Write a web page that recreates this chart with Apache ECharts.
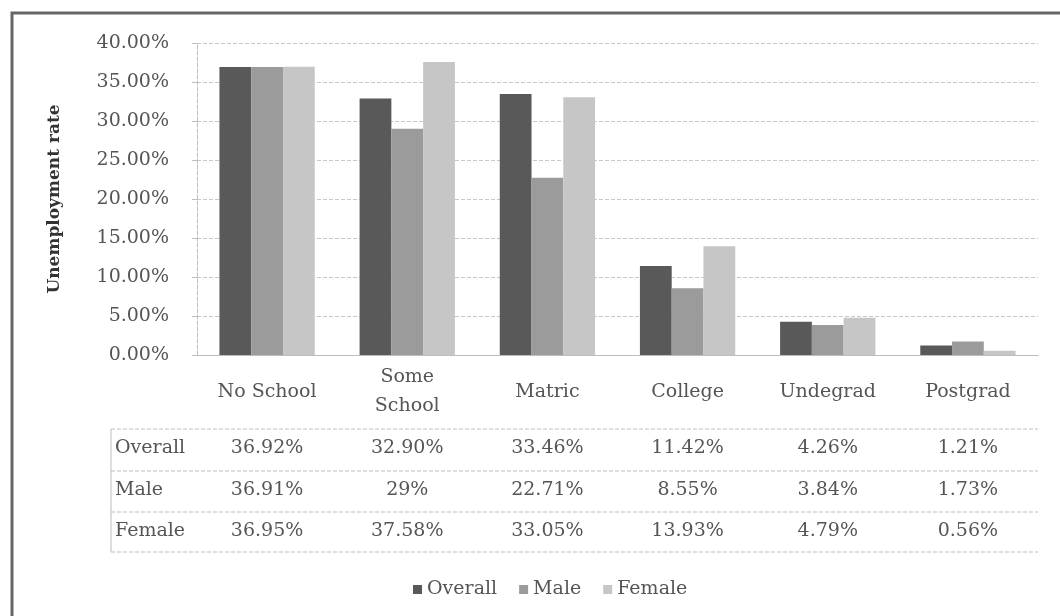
<!DOCTYPE html>
<html>
<head>
    <meta charset="utf-8">
    <script type="text/javascript" src="https://cdn.jsdelivr.net/npm/echarts@6/dist/echarts.min.js"></script>
</head>
<body style="margin:0;background:#fff;">
<div id="main" style="width:1060px;height:616px;"></div>
<script type="text/javascript">
    // data
    var categories = ['No School', 'Some\nSchool', 'Matric', 'College', 'Undegrad', 'Postgrad'];
    var seriesNames = ['Overall', 'Male', 'Female'];
    var overall = [36.92, 32.90, 33.46, 11.42, 4.26, 1.21];
    var male = [36.91, 29, 22.71, 8.55, 3.84, 1.73];
    var female = [36.95, 37.58, 33.05, 13.93, 4.79, 0.56];
    var colors = ['#595959', '#9b9b9b', '#c6c6c6'];

    var FONT = 'DejaVu Serif';
    var TXT = '#555';
    var LINE = '#bdbdbd';

    function fmt(v) {
        return (Number.isInteger(v) ? v : v.toFixed(2)) + '%';
    }

    // table layout (row borders / row label centers)
    var tableLeft = 111, tableRight = 1038;
    var rowLines = [429, 471, 512, 552];
    var rowCenters = [448, 490, 531];
    var axisY = 355;

    var rows = [overall, male, female];

    var xAxes = [{
        type: 'category',
        data: categories,
        axisLine: {lineStyle: {color: LINE}},
        axisTick: {length: rowLines[3] - axisY, lineStyle: {color: LINE, type: 'dashed'}},
        axisLabel: {interval: 0, margin: 37, verticalAlign: 'middle', lineHeight: 29,
            fontSize: 19, fontFamily: FONT, color: TXT}
    }];
    // one hidden axis per table row, so the cells sit under their columns
    rows.forEach(function (arr, k) {
        xAxes.push({
            type: 'category',
            data: categories,
            position: 'bottom',
            axisLine: {show: false},
            axisTick: {show: false},
            splitLine: {show: false},
            axisLabel: {
                interval: 0, margin: rowCenters[k] - axisY, verticalAlign: 'middle',
                fontSize: 19, fontFamily: FONT, color: TXT,
                formatter: function (v, i) { return fmt(arr[i]); }
            }
        });
    });

    var graphics = [{
        type: 'rect',
        shape: {x: 12, y: 13, width: 1100, height: 700},
        style: {fill: 'none', stroke: '#666', lineWidth: 3}
    }, {
        type: 'line',
        shape: {x1: tableLeft, y1: rowLines[0], x2: tableLeft, y2: rowLines[3]},
        style: {stroke: LINE, lineWidth: 1}
    }];
    rowLines.forEach(function (y) {
        graphics.push({
            type: 'line',
            shape: {x1: tableLeft, y1: y, x2: tableRight, y2: y},
            style: {stroke: LINE, lineWidth: 1, lineDash: [4, 2]}
        });
    });
    seriesNames.forEach(function (name, k) {
        graphics.push({
            type: 'text',
            x: tableLeft + 4, y: rowCenters[k],
            style: {text: name, fill: TXT, font: '19px "' + FONT + '"', verticalAlign: 'middle', align: 'left'}
        });
    });

    var myChart = echarts.init(document.getElementById('main'));
    var option = {
        animation: false,
        color: colors,
        grid: {left: 197, right: 22, top: 43, bottom: 616 - axisY},
        legend: {
            data: seriesNames,
            top: 575, left: 408,
            icon: 'rect', itemWidth: 9, itemHeight: 9, itemGap: 22,
            textStyle: {fontSize: 19, fontFamily: FONT, color: TXT}
        },
        xAxis: xAxes,
        yAxis: {
            type: 'value',
            min: 0, max: 40, interval: 5,
            name: 'Unemployment rate',
            nameLocation: 'middle',
            nameRotate: 90,
            nameGap: 134,
            nameTextStyle: {fontSize: 17, fontWeight: 'bold', fontFamily: FONT, color: '#333'},
            axisLine: {show: true, lineStyle: {color: LINE, type: 'dashed'}},
            axisTick: {show: true, length: 5, lineStyle: {color: LINE}},
            axisLabel: {margin: 28, fontSize: 19, fontFamily: FONT, color: TXT,
                formatter: function (v) { return v.toFixed(2) + '%'; }},
            splitLine: {lineStyle: {color: '#c8c8c8', type: 'dashed'}}
        },
        series: [
            {name: seriesNames[0], type: 'bar', data: overall, barGap: '0%', barCategoryGap: '32%'},
            {name: seriesNames[1], type: 'bar', data: male, barGap: '0%', barCategoryGap: '32%'},
            {name: seriesNames[2], type: 'bar', data: female, barGap: '0%', barCategoryGap: '32%'}
        ],
        graphic: graphics
    };
    myChart.setOption(option);
</script>
</body>
</html>
